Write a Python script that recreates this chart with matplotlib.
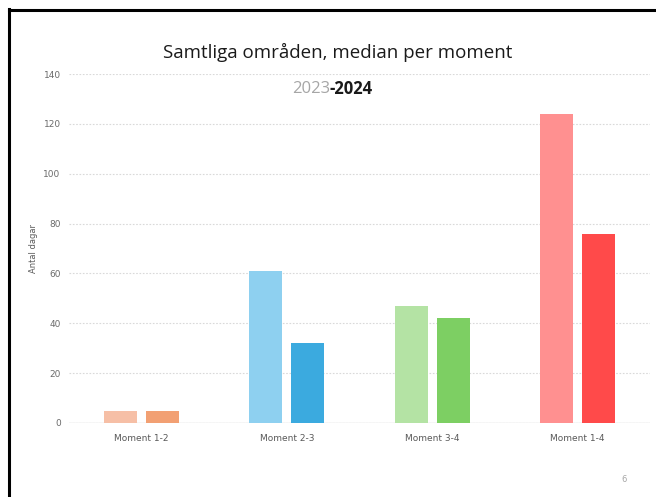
import matplotlib
matplotlib.use("Agg")
import matplotlib.pyplot as plt
import numpy as np

categories = ["Moment 1-2", "Moment 2-3", "Moment 3-4", "Moment 1-4"]
values_2023 = [5, 61, 47, 124]
values_2024 = [5, 32, 42, 76]
colors_2023 = ["#F6BFA6", "#8ED0F0", "#B4E3A4", "#FF9090"]
colors_2024 = ["#F2A073", "#3BAADF", "#7DCF63", "#FF4A4A"]
yticks = [0, 20, 40, 60, 80, 100, 120, 140]

plt.rcParams["hatch.color"] = (1, 1, 1, 0.35)
plt.rcParams["hatch.linewidth"] = 0.6

fig = plt.figure(figsize=(6.56, 4.97), dpi=100)
W, H = 656, 497

def fx(px):
    return px / W

def fy(py):
    return 1 - py / H

# frame lines (left and top)
fig.add_artist(plt.Line2D([fx(9), fx(9)], [fy(9), 0], color="black", lw=2.2))
fig.add_artist(plt.Line2D([fx(9), 1], [fy(9.5), fy(9.5)], color="black", lw=2.2))

ax = fig.add_axes([fx(69), fy(423), fx(650) - fx(69), (423 - 74) / H])
x = np.arange(len(categories))
w = 0.228
off = 0.145
ax.bar(x - off, values_2023, w, color=colors_2023, hatch="......", edgecolor="none", zorder=3)
ax.bar(x + off, values_2024, w, color=colors_2024, hatch="...", edgecolor="none", zorder=3)

ax.set_xlim(-0.5, len(categories) - 0.5)
ax.set_ylim(0, 140)
ax.set_yticks(yticks)
ax.set_yticklabels([str(t) for t in yticks], fontsize=6.5, color="#6b6b6b")
ax.set_xticks(x)
ax.set_xticklabels(categories, fontsize=6.5, color="#595959")
ax.tick_params(length=0)
ax.tick_params(axis="x", pad=8)
ax.tick_params(axis="y", pad=6)
ax.yaxis.grid(True, color="#D9D9D9", lw=0.8, ls=(0, (1.5, 1.5)), zorder=0)
for s in ax.spines.values():
    s.set_visible(False)
ax.axhline(0, color="#D9D9D9", lw=1, zorder=2)
ax.set_ylabel("Antal dagar", fontsize=6, color="#595959")
ax.yaxis.set_label_coords((38 - 69) / (650 - 69), 0.5)

fig.text(fx(338), fy(52), "Samtliga områden, median per moment", ha="center", va="center",
         fontsize=13.5, color="#1a1a1a", family="Open Sans")
fig.text(fx(330), fy(89), "2023", ha="right", va="center", fontsize=12,
         color="#A6A6A6", family="Open Sans")
fig.text(fx(330), fy(89), "-2024", ha="left", va="center", fontsize=12,
         color="#1a1a1a", fontweight="bold", family="Open Sans")
fig.text(fx(624), fy(480), "6", ha="center", va="center", fontsize=6, color="#A6A6A6")

fig.savefig("out.png", dpi=100)
